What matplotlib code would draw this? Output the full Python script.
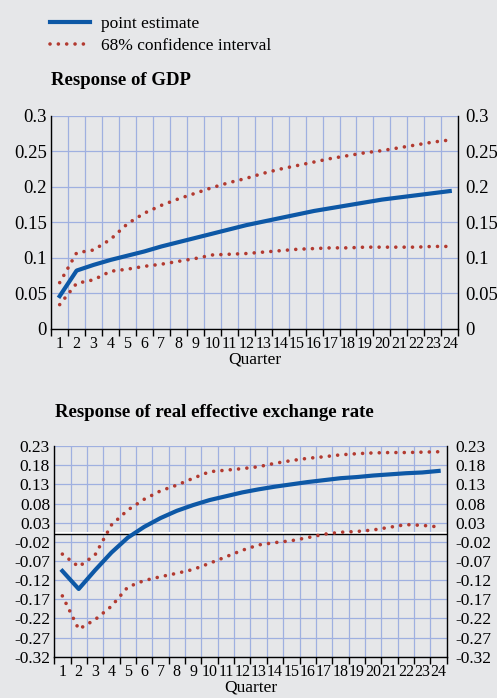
import numpy as np
import matplotlib.pyplot as plt
from matplotlib.lines import Line2D

plt.rcParams['font.family'] = ['Liberation Serif', 'DejaVu Serif']

quarters = list(range(1, 25))

# Response of GDP
gdp_point = [0.046, 0.082, 0.090, 0.097, 0.103, 0.109, 0.116, 0.122, 0.128, 0.134,
             0.140, 0.146, 0.151, 0.156, 0.161, 0.166, 0.170, 0.174, 0.178, 0.182,
             0.185, 0.188, 0.191, 0.194]
gdp_upper = [0.065, 0.107, 0.111, 0.126, 0.148, 0.163, 0.174, 0.183, 0.191, 0.199,
             0.206, 0.212, 0.219, 0.225, 0.230, 0.235, 0.240, 0.244, 0.248, 0.251,
             0.255, 0.259, 0.263, 0.266]
gdp_lower = [0.034, 0.064, 0.069, 0.081, 0.084, 0.088, 0.091, 0.095, 0.099, 0.104,
             0.105, 0.106, 0.108, 0.110, 0.112, 0.113, 0.114, 0.114, 0.115, 0.115,
             0.115, 0.115, 0.116, 0.116]
gdp_ticks = [0, 0.05, 0.1, 0.15, 0.2, 0.25, 0.3]
gdp_labels = ["0", "0.05", "0.1", "0.15", "0.2", "0.25", "0.3"]

# Response of real effective exchange rate
reer_point = [-0.096, -0.143, -0.094, -0.048, -0.009, 0.019, 0.042, 0.061, 0.076, 0.089,
              0.099, 0.109, 0.117, 0.124, 0.130, 0.136, 0.141, 0.146, 0.149, 0.153,
              0.156, 0.159, 0.161, 0.165]
reer_upper = [-0.052, -0.085, -0.054, 0.024, 0.063, 0.091, 0.113, 0.128, 0.146, 0.163,
              0.167, 0.171, 0.176, 0.185, 0.192, 0.198, 0.202, 0.207, 0.210, 0.212,
              0.213, 0.213, 0.214, 0.215]
reer_lower = [-0.161, -0.248, -0.223, -0.188, -0.138, -0.121, -0.111, -0.102, -0.092, -0.076,
              -0.059, -0.042, -0.028, -0.022, -0.017, -0.009, 0.000, 0.005, 0.007, 0.011,
              0.018, 0.025, 0.023, 0.019]
reer_ticks = [0.23, 0.18, 0.13, 0.08, 0.03, -0.02, -0.07, -0.12, -0.17, -0.22, -0.27, -0.32]
reer_labels = ["%.2f" % t for t in reer_ticks]

bg = "#e6e7e9"
blue = "#0d58a6"
red = "#b23a30"
gridc = "#9fb0e0"
dots = (0, (0.01, 2.3))
dot_lw = 2.6

fig = plt.figure(figsize=(4.97, 6.98), dpi=100, facecolor=bg)


def panel(rect, point, upper, lower, ticks, labels, ylim, tick_size, rpad, zero=False):
    ax = fig.add_axes(rect, facecolor=bg)
    x = np.array(quarters)
    ax.set_xlim(0.5, 24.5)
    ax.set_ylim(*ylim)
    ax.set_yticks(ticks)
    ax.set_yticklabels(labels, fontsize=tick_size)
    ax.set_xticks(np.arange(0.5, 25, 1))
    ax.set_xticklabels([])
    ax.set_xticks(x, minor=True)
    ax.set_xticklabels([str(q) for q in quarters], minor=True, fontsize=11.5)
    ax.tick_params(axis='x', which='major', length=5, direction='out', width=1)
    ax.tick_params(axis='x', which='minor', length=0, pad=5)
    ax.tick_params(axis='y', length=0, pad=3)
    ax.grid(True, which='major', color=gridc, lw=0.9)
    ax.set_axisbelow(True)
    ax.spines['top'].set_visible(False)
    for s in ['left', 'right', 'bottom']:
        ax.spines[s].set_color('black')
        ax.spines[s].set_linewidth(1)
    if zero:
        ax.axhline(0.003, color='white', lw=1.5, zorder=1.5)
        ax.axhline(0, color='black', lw=1, zorder=1.6)
    ax.plot(x, upper, color=red, lw=dot_lw, linestyle=dots, dash_capstyle='round', zorder=3)
    ax.plot(x, lower, color=red, lw=dot_lw, linestyle=dots, dash_capstyle='round', zorder=3)
    ax.plot(x, point, color=blue, lw=3, zorder=4)
    ax.set_xlabel("Quarter", fontsize=12.5, labelpad=0)
    ax2 = ax.twinx()
    ax2.set_ylim(*ylim)
    ax2.set_yticks(ticks)
    ax2.set_yticklabels(labels, fontsize=tick_size)
    ax2.tick_params(axis='y', length=0, pad=rpad)
    for s in ax2.spines.values():
        s.set_visible(False)
    return ax


panel([0.103, 0.529, 0.819, 0.305], gdp_point, gdp_upper, gdp_lower,
      gdp_ticks, gdp_labels, (0, 0.3), 13.5, 5)
panel([0.109, 0.059, 0.790, 0.302], reer_point, reer_upper, reer_lower,
      reer_ticks, reer_labels, (-0.32, 0.23), 12.5, 6, zero=True)

fig.text(0.103, 0.884, "Response of GDP", fontsize=13.5, fontweight='bold', va='center')
fig.text(0.111, 0.409, "Response of real effective exchange rate", fontsize=13.5,
         fontweight='bold', va='center')

handles = [Line2D([], [], color=blue, lw=3),
           Line2D([], [], color=red, lw=dot_lw, linestyle=dots, dash_capstyle='round')]
fig.legend(handles, ["point estimate", "68% confidence interval"], loc='upper left',
           bbox_to_anchor=(0.07, 1.0), frameon=False, fontsize=12.5, handlelength=2.3,
           handletextpad=0.6, labelspacing=0.35)

plt.savefig("out.png", dpi=100, facecolor=bg)
